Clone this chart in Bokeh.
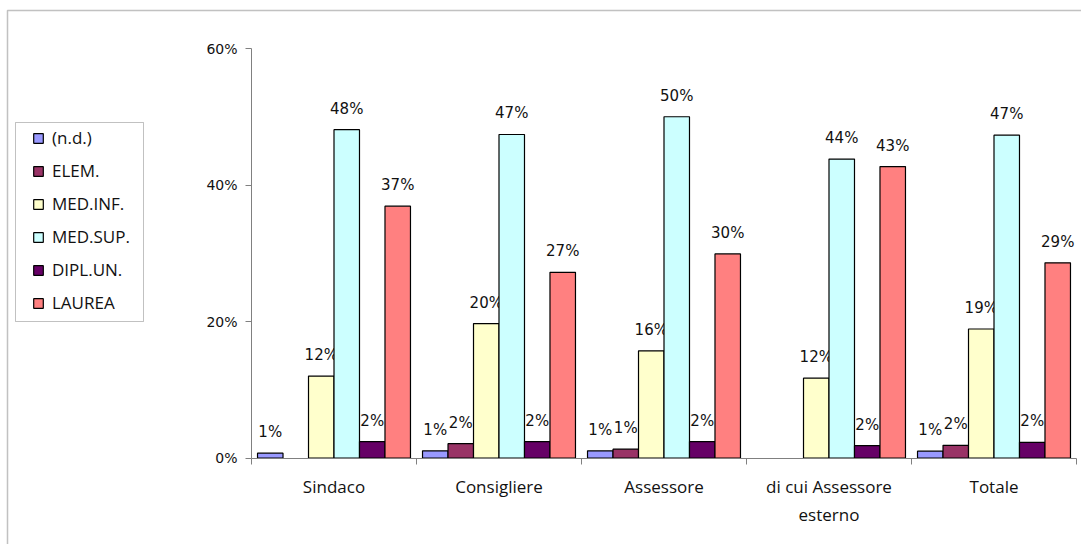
from bokeh.plotting import figure
from bokeh.models import (ColumnDataSource, Range1d, FixedTicker, LinearAxis,
                          Legend, LegendItem, BoxAnnotation)
from bokeh.transform import dodge
from bokeh.core.properties import value
from bokeh.embed import file_html
from bokeh.resources import INLINE

# ---- data -------------------------------------------------------------
categories = ["Sindaco", "Consigliere", "Assessore", "di cui Assessore\nesterno", "Totale"]
series_names = ["(n.d.)", "ELEM.", "MED.INF.", "MED.SUP.", "DIPL.UN.", "LAUREA"]
nd = [0.7, 1.05, 1.05, 0.0, 1.0]
elem = [0.0, 2.1, 1.3, 0.0, 1.85]
med_inf = [12.0, 19.7, 15.7, 11.7, 18.9]
med_sup = [48.1, 47.4, 50.0, 43.8, 47.3]
dipl_un = [2.4, 2.4, 2.4, 1.8, 2.3]
laurea = [36.9, 27.2, 29.9, 42.7, 28.6]
y_ticks = [0, 20, 40, 60]
y_tick_labels = ["0%", "20%", "40%", "60%"]

series_values = [nd, elem, med_inf, med_sup, dipl_un, laurea]
colors = ["#9999FF", "#993366", "#FFFFCC", "#CCFFFF", "#660066", "#FF8080"]

NUM_FONT = "DejaVu Sans"
TXT_FONT = "Open Sans"

# ---- layout (canvas pixels) -------------------------------------------
W, H = 1081, 544
AX_LEFT, AX_RIGHT = 251, 1076      # x pixels of category span
AX_BOTTOM, AX_TOP = 457.5, 48      # y pixels of 0% and 60%
ncat = len(categories)
px_per_cat = (AX_RIGHT - AX_LEFT) / ncat
px_per_pct = (AX_BOTTOM - AX_TOP) / 60.0
x_start = -AX_LEFT / px_per_cat
x_end = (W - AX_LEFT) / px_per_cat
y_start = -(H - AX_BOTTOM) / px_per_pct
y_end = AX_BOTTOM / px_per_pct

p = figure(width=W, height=H, x_range=Range1d(x_start, x_end), y_range=Range1d(y_start, y_end),
           output_backend="svg", toolbar_location=None,
           x_axis_location=None, y_axis_location=None, min_border=0)
p.xgrid.visible = False
p.ygrid.visible = False
p.outline_line_color = None
p.background_fill_color = "white"
p.border_fill_color = "white"

centers = [i + 0.5 for i in range(ncat)]
bw = 0.1545
offsets = [(k - 2.5) * bw for k in range(6)]

items = []
for name, vals, col, off in zip(series_names, series_values, colors, offsets):
    bx = [c for c, v in zip(centers, vals) if v > 0]
    by = [v for v in vals if v > 0]
    lt = [f"{round(v)}%" for v in by]
    src = ColumnDataSource(dict(x=bx, top=by, t=lt))
    r = p.vbar(x=dodge("x", off), top="top", bottom=0, width=bw, source=src,
               fill_color=col, line_color="black", line_width=1.2)
    items.append(LegendItem(label=name, renderers=[r]))
    p.text(x=dodge("x", off), y="top", text="t", source=src, y_offset=-21,
           text_align="center", text_baseline="middle",
           text_font=value(NUM_FONT), text_font_size="15px", text_color="#111111")

# y axis
yaxis = LinearAxis(ticker=FixedTicker(ticks=y_ticks, minor_ticks=[]),
                   major_label_overrides={t: l for t, l in zip(y_ticks, y_tick_labels)},
                   fixed_location=0, bounds=(0, 60))
yaxis.axis_line_color = "#808080"
yaxis.major_tick_line_color = "#808080"
yaxis.major_tick_out = 6
yaxis.major_tick_in = 0
yaxis.major_label_standoff = 8
yaxis.major_label_text_font = NUM_FONT
yaxis.major_label_text_font_size = "14px"
yaxis.major_label_text_color = "#111111"
p.add_layout(yaxis, "left")

# x axis: ticks at category boundaries, labels at centers
xaxis = LinearAxis(ticker=FixedTicker(ticks=centers, minor_ticks=list(range(ncat + 1))),
                   major_label_overrides={c: l for c, l in zip(centers, categories)},
                   fixed_location=0, bounds=(0, ncat))
xaxis.axis_line_color = "#808080"
xaxis.major_tick_line_color = None
xaxis.minor_tick_line_color = "#808080"
xaxis.minor_tick_out = 6
xaxis.minor_tick_in = 0
xaxis.major_tick_out = 0
xaxis.major_label_standoff = 11
xaxis.major_label_text_font = TXT_FONT
xaxis.major_label_text_font_size = "17px"
xaxis.major_label_text_color = "#111111"
xaxis.major_label_text_line_height = 1.2
p.add_layout(xaxis, "below")

# outer chart border and legend box
p.add_layout(BoxAnnotation(left=7, right=5000, top=10, bottom=5000,
                           left_units="canvas", right_units="canvas",
                           top_units="canvas", bottom_units="canvas",
                           fill_color=None, line_color="#333333", line_width=1.5))
p.add_layout(BoxAnnotation(left=15, right=143, top=122, bottom=321,
                           left_units="canvas", right_units="canvas",
                           top_units="canvas", bottom_units="canvas",
                           fill_color=None, line_color="#333333", line_width=1))

legend = Legend(items=items, location=(32, 230), padding=0, spacing=10,
                glyph_width=12, glyph_height=12, label_height=23, label_standoff=8,
                border_line_color=None, background_fill_alpha=0,
                label_text_font=TXT_FONT, label_text_font_size="17px",
                label_text_color="#111111")
p.add_layout(legend)

open("out.html", "w").write(file_html(p, INLINE))
